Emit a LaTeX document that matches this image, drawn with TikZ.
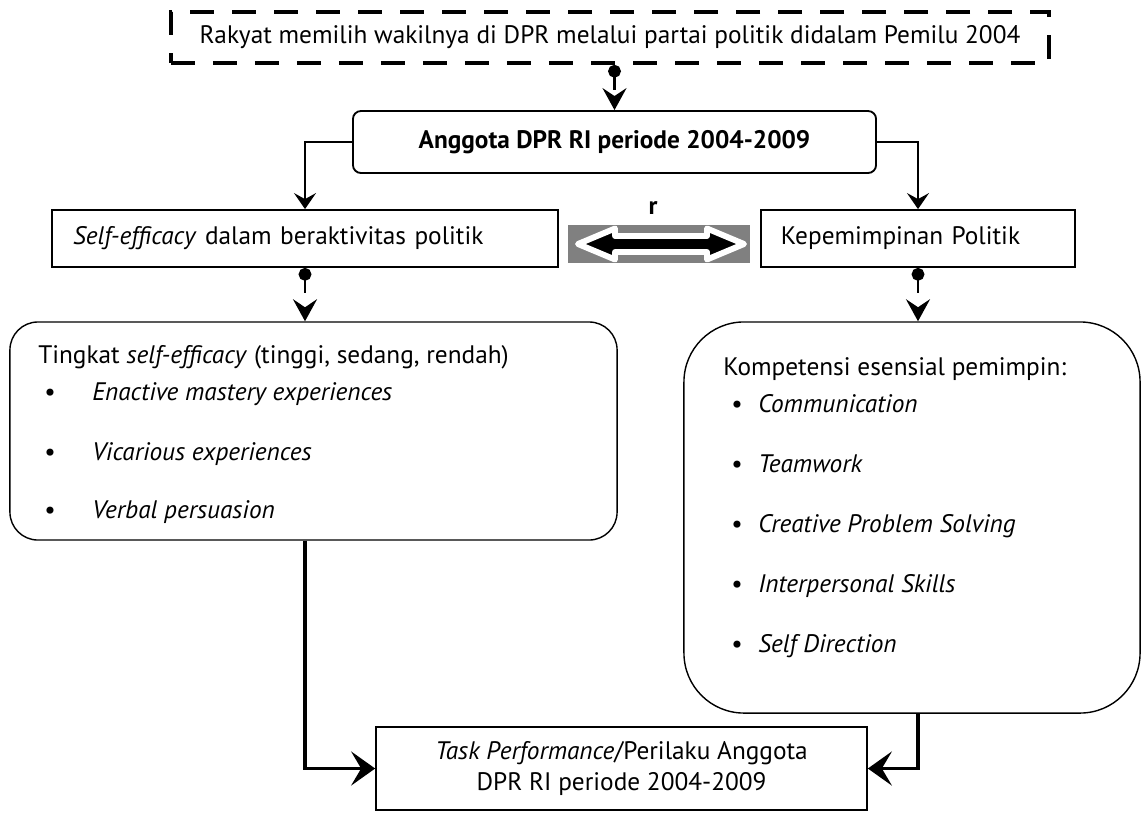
\documentclass[tikz,border=0pt]{standalone}
\usepackage{fontspec}
\setmainfont{PT Sans}
\usepackage{tikz}
\usetikzlibrary{arrows.meta, positioning, calc}
\definecolor{RelasiGray}{HTML}{808080}
\tikzset{
  dashbox/.style={rectangle, draw=black, line width=2.6pt, dash pattern=on 0.6cm off 0.45cm, inner sep=0pt, align=center},
  roundbox/.style={rectangle, rounded corners=0.2cm, draw=black, line width=1.3pt, inner sep=0pt, align=center, font=\fontsize{18}{22}\selectfont\bfseries},
  plainbox/.style={rectangle, draw=black, line width=1.3pt, inner ysep=0pt, align=left},
  listbox/.style={rectangle, draw=black, line width=1pt},
  taskbox/.style={rectangle, draw=black, line width=1.1pt, inner sep=0pt, align=center},
  listtext/.style={anchor=base west, inner sep=0pt},
  listdot/.style={anchor=base, inner sep=0pt},
  arrow/.style={-{Stealth[length=0.4cm, width=0.55cm, inset=0.15cm]}, line width=1.2pt},
  thickarrow/.style={-{Stealth[length=0.6cm, width=0.85cm, inset=0.25cm]}, line width=2.6pt},
  dotarrow/.style={{Circle[length=0.32cm]}-{Stealth[length=0.55cm, width=0.6cm, inset=0.2cm]}, line width=1.8pt, dash pattern=on 0.35cm off 3cm}
}

\begin{document}
\begin{tikzpicture}[x=0.025cm, y=-0.025cm, font=\fontsize{18}{22}\selectfont]
  \fill[white] (0,0) rectangle (1143,812);

  \node[dashbox, minimum width=21.95cm, minimum height=1.275cm] (atas) at (610,37.5) {Rakyat memilih wakilnya di DPR melalui partai politik didalam Pemilu 2004};
  \node[roundbox, minimum width=13.075cm, minimum height=1.55cm] (anggota) at (614.5,142) {Anggota DPR RI periode 2004-2009};

  \node[plainbox, minimum width=12.65cm, minimum height=1.425cm, text width=11.59cm, inner xsep=0.53cm] (efikasi) at (305,238.5) {\textit{Self-efficacy} dalam beraktivitas politik};
  \node[plainbox, minimum width=7.85cm, minimum height=1.425cm, text width=6.85cm, inner xsep=0.5cm] (kepemimpinan) at (918,238.5) {Kepemimpinan Politik};

  % hubungan r
  \node[rectangle, fill=RelasiGray, minimum width=4.55cm, minimum height=0.95cm, inner sep=0pt] (relasi) at (659,244) {};
  \draw[white, line width=4.2pt, line join=round, fill=black] (578,244) -- (615,228.5) -- (615,236) -- (707,236) -- (707,228.5) -- (744,244) -- (707,259.5) -- (707,252) -- (615,252) -- (615,259.5) -- cycle;
  \node (labelr) at (653,208) {\textbf{r}};

  \node[listbox, rounded corners=0.7cm, minimum width=15.175cm, minimum height=5.45cm] (tingkat) at (313.5,431) {};
  \node[listtext] (tingkatjudul) at (38,363) {Tingkat \textit{self-efficacy} (tinggi, sedang, rendah)};
  \node[listdot] (tb1) at (50,400) {\textbullet};
  \node[listtext] (ti1) at (92,400) {\textit{Enactive mastery experiences}};
  \node[listdot] (tb2) at (50,460) {\textbullet};
  \node[listtext] (ti2) at (92,460) {\textit{Vicarious experiences}};
  \node[listdot] (tb3) at (50,518) {\textbullet};
  \node[listtext] (ti3) at (92,518) {\textit{Verbal persuasion}};

  \node[listbox, rounded corners=1.5cm, minimum width=11.4cm, minimum height=9.775cm] (kompetensi) at (912,517.5) {};
  \node[listtext] (kompetensijudul) at (723,375) {Kompetensi esensial pemimpin:};
  \node[listdot] (kb1) at (737,412) {\textbullet};
  \node[listtext] (ki1) at (758,412) {\textit{Communication}};
  \node[listdot] (kb2) at (737,472) {\textbullet};
  \node[listtext] (ki2) at (758,472) {\textit{Teamwork}};
  \node[listdot] (kb3) at (737,532) {\textbullet};
  \node[listtext] (ki3) at (758,532) {\textit{Creative Problem Solving}};
  \node[listdot] (kb4) at (737,592) {\textbullet};
  \node[listtext] (ki4) at (758,592) {\textit{Interpersonal Skills}};
  \node[listdot] (kb5) at (737,652) {\textbullet};
  \node[listtext] (ki5) at (758,652) {\textit{Self Direction}};

  \node[taskbox, minimum width=12.275cm, minimum height=2.075cm] (kinerja) at (621.5,768.5) {\textit{Task Performance}/Perilaku Anggota\\DPR RI periode 2004-2009};

  \draw[dotarrow] (atas.south -| anggota.north) -- (anggota.north);
  \draw[arrow] (anggota.west) -| (efikasi.north);
  \draw[arrow] (anggota.east) -| (kepemimpinan.north);
  \draw[dotarrow] (efikasi.south) -- (efikasi.south |- tingkat.north);
  \draw[dotarrow] (kepemimpinan.south) -- (kepemimpinan.south |- kompetensi.north);
  \draw[thickarrow] (efikasi.south |- tingkat.south) |- (kinerja.west);
  \draw[thickarrow] (kepemimpinan.south |- kompetensi.south) |- (kinerja.east);
\end{tikzpicture}
\end{document}
